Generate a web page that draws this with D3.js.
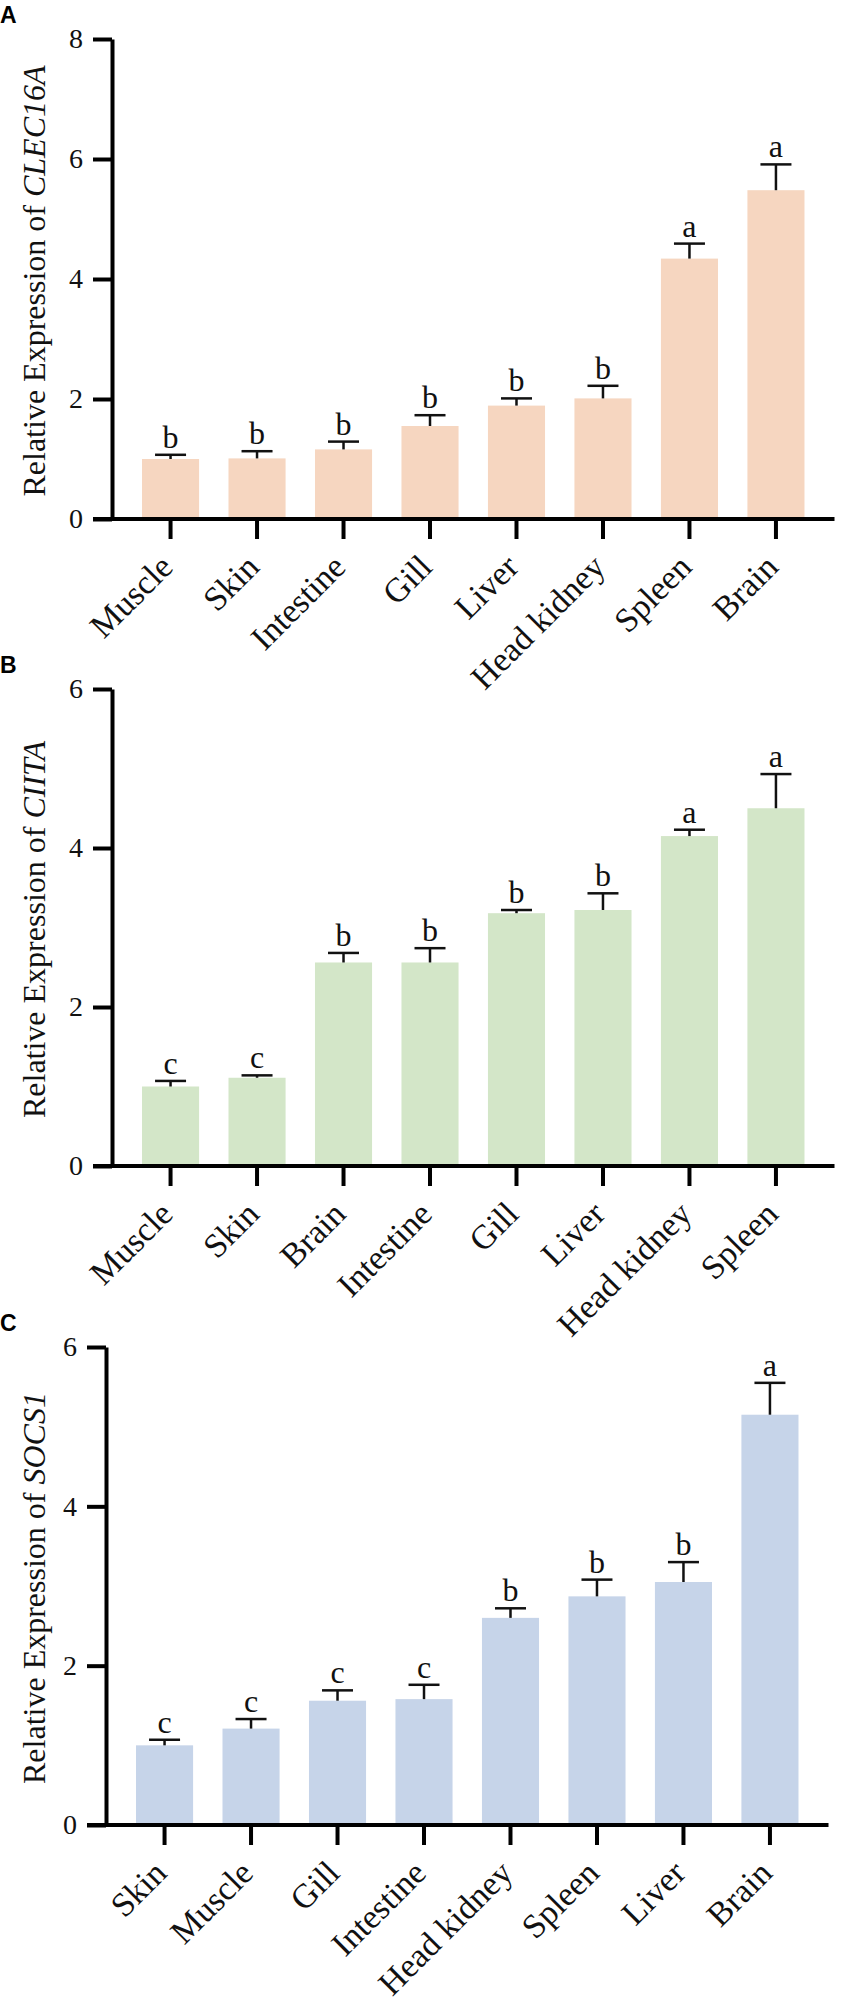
<!DOCTYPE html>
<html>
<head>
<meta charset="utf-8">
<script src="https://cdn.jsdelivr.net/npm/d3@7"></script>
<style>
  html, body { margin: 0; padding: 0; background: #fff; }
  svg { display: block; }
</style>
</head>
<body>
<div id="chart"></div>
<script>
// panel A - CLEC16A
const tissuesA = ["Muscle", "Skin", "Intestine", "Gill", "Liver", "Head kidney", "Spleen", "Brain"];
const meanA = [1.00, 1.01, 1.16, 1.55, 1.89, 2.01, 4.34, 5.48];
const errA = [0.07, 0.12, 0.13, 0.18, 0.12, 0.21, 0.25, 0.43];
const sigA = ["b", "b", "b", "b", "b", "b", "a", "a"];
const ticksA = [0, 2, 4, 6, 8];

// panel B - CIITA
const tissuesB = ["Muscle", "Skin", "Brain", "Intestine", "Gill", "Liver", "Head kidney", "Spleen"];
const meanB = [1.00, 1.11, 2.56, 2.56, 3.18, 3.22, 4.15, 4.50];
const errB = [0.07, 0.03, 0.12, 0.18, 0.04, 0.21, 0.08, 0.43];
const sigB = ["c", "c", "b", "b", "b", "b", "a", "a"];
const ticksB = [0, 2, 4, 6];

// panel C - SOCS1
const tissuesC = ["Skin", "Muscle", "Gill", "Intestine", "Head kidney", "Spleen", "Liver", "Brain"];
const meanC = [1.00, 1.21, 1.56, 1.58, 2.60, 2.87, 3.05, 5.15];
const errC = [0.07, 0.12, 0.13, 0.18, 0.12, 0.21, 0.25, 0.40];
const sigC = ["c", "c", "c", "c", "b", "b", "b", "a"];
const ticksC = [0, 2, 4, 6];

const width = 843, height = 2004;
const serif = "'Liberation Serif', 'Times New Roman', serif";

const panels = [
  { tag: "A", gene: "CLEC16A", cats: tissuesA, mean: meanA, err: errA, sig: sigA, ticks: ticksA,
    fill: "#f6d6c0", axisX: 112, top: 39, base: 519 },
  { tag: "B", gene: "CIITA", cats: tissuesB, mean: meanB, err: errB, sig: sigB, ticks: ticksB,
    fill: "#d3e6c8", axisX: 112, top: 689, base: 1166 },
  { tag: "C", gene: "SOCS1", cats: tissuesC, mean: meanC, err: errC, sig: sigC, ticks: ticksC,
    fill: "#c6d4e9", axisX: 106, top: 1347, base: 1825 }
];

const svg = d3.select("#chart").append("svg")
  .attr("width", width)
  .attr("height", height)
  .attr("viewBox", [0, 0, width, height])
  .style("background", "white");

panels.forEach(p => {
  const g = svg.append("g");
  const ymax = d3.max(p.ticks);

  const x = d3.scaleBand()
    .domain(p.cats)
    .range([p.axisX, p.axisX + 722.5])
    .paddingInner(0.34)
    .paddingOuter(0.347);

  const y = d3.scaleLinear()
    .domain([0, ymax])
    .range([p.base, p.top]);

  const rows = p.cats.map((c, i) => ({ cat: c, mean: p.mean[i], err: p.err[i], sig: p.sig[i] }));
  const cx = d => x(d.cat) + x.bandwidth() / 2;

  // bars
  g.selectAll("rect.bar")
    .data(rows)
    .join("rect")
    .attr("class", "bar")
    .attr("x", d => x(d.cat))
    .attr("width", x.bandwidth())
    .attr("y", d => y(d.mean))
    .attr("height", d => y(0) - y(d.mean))
    .attr("fill", p.fill);

  // error bars, upper half only
  const eb = g.selectAll("g.err")
    .data(rows)
    .join("g")
    .attr("class", "err")
    .attr("stroke", "#111")
    .attr("stroke-width", 2.5);

  eb.append("line")
    .attr("x1", cx)
    .attr("x2", cx)
    .attr("y1", d => y(d.mean))
    .attr("y2", d => y(d.mean + d.err));

  eb.append("line")
    .attr("x1", d => cx(d) - 15.5)
    .attr("x2", d => cx(d) + 15.5)
    .attr("y1", d => y(d.mean + d.err))
    .attr("y2", d => y(d.mean + d.err));

  // significance letters
  g.selectAll("text.sig")
    .data(rows)
    .join("text")
    .attr("class", "sig")
    .attr("x", cx)
    .attr("y", d => y(d.mean + d.err) - 7)
    .attr("text-anchor", "middle")
    .attr("font-family", serif)
    .attr("font-size", 32)
    .attr("fill", "#111")
    .text(d => d.sig);

  // y axis
  const yAxis = g.append("g")
    .attr("transform", `translate(${p.axisX},0)`)
    .call(d3.axisLeft(y)
      .tickValues(p.ticks)
      .tickFormat(d3.format("d"))
      .tickSize(19)
      .tickPadding(10)
      .tickSizeOuter(0))
    .attr("font-family", serif)
    .attr("font-size", 28);
  yAxis.select(".domain").attr("stroke", "#000").attr("stroke-width", 4);
  yAxis.selectAll(".tick line").attr("stroke", "#000").attr("stroke-width", 4);
  yAxis.selectAll(".tick text").attr("fill", "#111");

  // x axis
  const xAxis = g.append("g")
    .attr("transform", `translate(0,${p.base})`)
    .call(d3.axisBottom(x).tickSize(20).tickSizeOuter(0))
    .attr("font-family", serif)
    .attr("font-size", 34);
  xAxis.select(".domain").remove();
  xAxis.append("line")
    .attr("x1", p.axisX - 19)
    .attr("x2", p.axisX + 722.5)
    .attr("stroke", "#000")
    .attr("stroke-width", 4);
  xAxis.selectAll(".tick line").attr("stroke", "#000").attr("stroke-width", 4);
  xAxis.selectAll(".tick text")
    .attr("y", 0)
    .attr("dy", 0)
    .attr("text-anchor", "end")
    .attr("transform", "translate(4,50) rotate(-45)")
    .attr("fill", "#111");

  // y title
  const t = g.append("text")
    .attr("transform", `translate(45,${(p.top + p.base) / 2 + 2}) rotate(-90)`)
    .attr("text-anchor", "middle")
    .attr("font-family", serif)
    .attr("font-size", 32)
    .attr("fill", "#111");
  t.append("tspan").text("Relative Expression of ");
  t.append("tspan").attr("font-style", "italic").text(p.gene);

  // panel letter
  g.append("text")
    .attr("x", 0)
    .attr("y", p.top - 16)
    .attr("font-family", "'Liberation Sans', Arial, sans-serif")
    .attr("font-weight", "bold")
    .attr("font-size", 23)
    .attr("fill", "#000")
    .text(p.tag);
});
</script>
</body>
</html>
